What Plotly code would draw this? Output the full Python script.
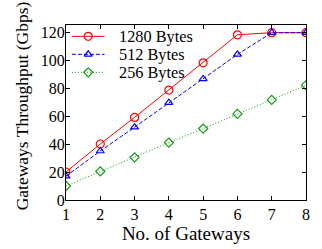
import plotly.graph_objects as go

gateways = [1, 2, 3, 4, 5, 6, 7, 8]
bytes_1280 = [20, 40, 59, 78.5, 98, 118, 119.5, 119.5]
bytes_512 = [17, 35, 52, 69.5, 86.5, 104, 119.5, 119.5]
bytes_256 = [10, 20.5, 30.5, 41, 51, 61.5, 71.5, 82]
series_names = ["1280 Bytes", "512 Bytes", "256 Bytes"]

font = "Liberation Serif"
colors = ["#ff0000", "#0000ff", "#119911"]
dashes = ["solid", "4px,2px", "1px,2px"]
symbols = ["circle-open", "triangle-up-open", "diamond-open"]
msizes = [8, 7, 7]

fig = go.Figure()
for name, ys, c, d, s, ms in zip(series_names, [bytes_1280, bytes_512, bytes_256], colors, dashes, symbols, msizes):
    fig.add_trace(go.Scatter(x=gateways, y=ys, name=name, mode="lines+markers", showlegend=False,
                             line=dict(color=c, width=1, dash=d),
                             marker=dict(symbol=s, size=ms, color=c, line=dict(width=1.2))))

# manual legend on an overlay axis in pixel units of the plot area
leg_rows = [36.8, 55.5, 74.2]
for name, c, d, s, ms, ry in zip(series_names, colors, dashes, symbols, msizes, leg_rows):
    fig.add_trace(go.Scatter(x=[72, 105], y=[ry, ry], xaxis="x2", yaxis="y2", mode="lines",
                             line=dict(color=c, width=1, dash=d), showlegend=False, hoverinfo="skip"))
    fig.add_trace(go.Scatter(x=[88.5], y=[ry], xaxis="x2", yaxis="y2", mode="markers",
                             marker=dict(symbol=s, size=ms, color=c, line=dict(width=1.2)),
                             showlegend=False, hoverinfo="skip"))
    fig.add_annotation(x=118, y=ry, xref="x2", yref="y2", text=name, showarrow=False,
                       xanchor="left", yanchor="middle", font=dict(family=font, size=16.3, color="black"))

# y-axis title placed as rotated text
fig.add_annotation(x=(21 - 66) / 243, y=(207 - 109) / 182, xref="paper", yref="paper",
                   text="Gateways Throughput (Gbps)", textangle=-90, showarrow=False,
                   xanchor="center", yanchor="middle", font=dict(family=font, size=17.5, color="black"))

axis_common = dict(showgrid=False, zeroline=False, showline=True, linecolor="black", linewidth=1,
                   mirror="ticks", ticks="inside", ticklen=4, tickcolor="black",
                   tickfont=dict(family=font, size=16, color="black"))
fig.update_layout(
    width=322, height=249,
    margin=dict(l=66, r=13, t=25, b=42),
    paper_bgcolor="white", plot_bgcolor="white",
    font=dict(family=font, color="black"),
    xaxis=dict(range=[1, 8], dtick=1, title=dict(text="No. of Gateways", font=dict(family=font, size=19), standoff=0), **axis_common),
    yaxis=dict(range=[0, 125], dtick=20, ticklabelstandoff=-3, **axis_common),
    xaxis2=dict(range=[66, 309], overlaying="x", visible=False, fixedrange=True),
    yaxis2=dict(range=[207, 25], overlaying="y", visible=False, fixedrange=True),
    showlegend=False,
)
fig.write_html("out.html", config={"displayModeBar": False},
               post_script="document.body.style.margin='0';document.body.style.overflow='hidden';")
